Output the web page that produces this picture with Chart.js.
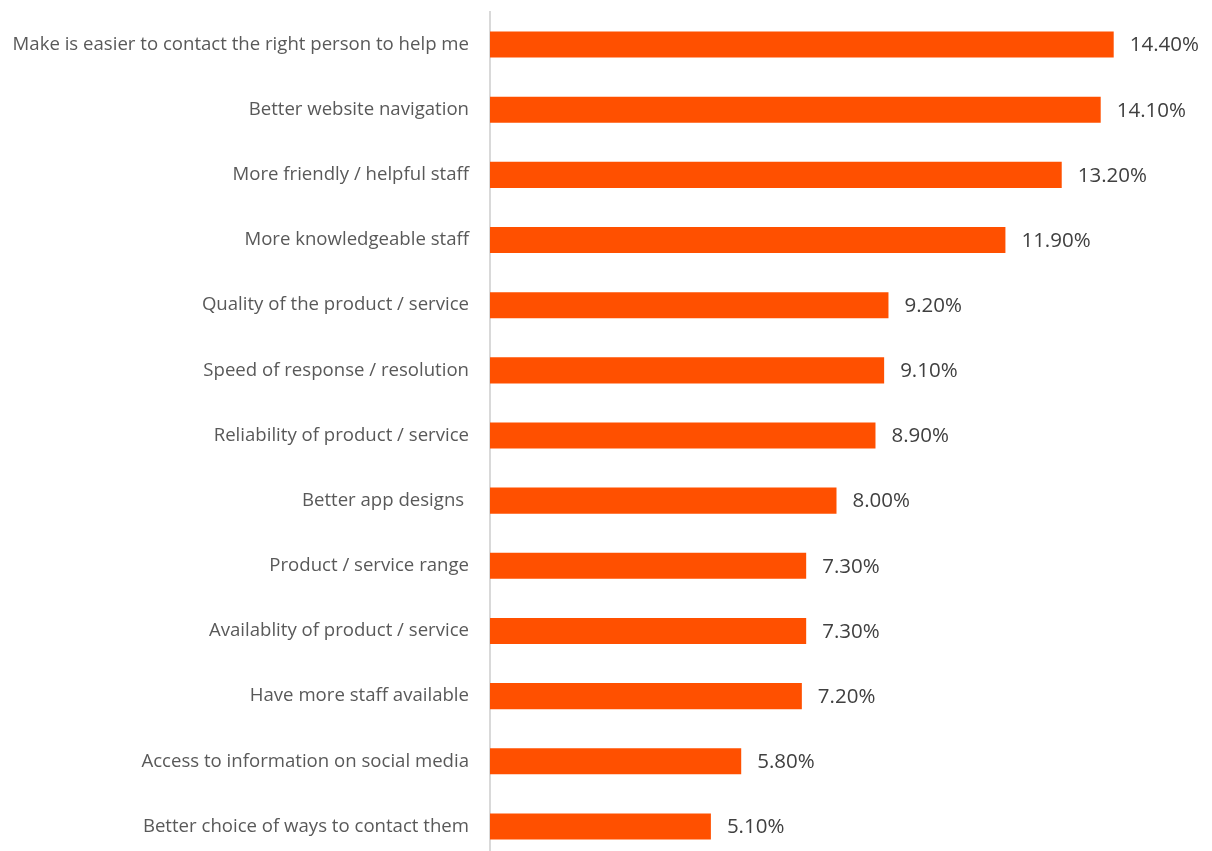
<!DOCTYPE html>
<html>
<head>
<meta charset="utf-8">
<script src="https://cdn.jsdelivr.net/npm/chart.js@4.4.1/dist/chart.umd.min.js"></script>
<style>
html,body{margin:0;padding:0;background:#fff;overflow:hidden}
#wrap{width:1212px;height:860px}
</style>
</head>
<body>
<div id="wrap"><canvas id="c" width="1212" height="860"></canvas></div>
<script>
const categories=['Make is easier to contact the right person to help me','Better website navigation','More friendly / helpful staff','More knowledgeable staff','Quality of the product / service','Speed of response / resolution','Reliability of product / service','Better app designs ','Product / service range','Availablity of product / service','Have more staff available','Access to information on social media','Better choice of ways to contact them'];
const values=[14.4,14.1,13.2,11.9,9.2,9.1,8.9,8.0,7.3,7.3,7.2,5.8,5.1];

const FONT='"Open Sans", "Liberation Sans", sans-serif';
const valueLabels={
  id:'valueLabels',
  afterDatasetsDraw(chart){
    const ctx=chart.ctx;
    ctx.save();
    ctx.font='20.5px '+FONT;
    ctx.fillStyle='#404040';
    ctx.textBaseline='middle';
    chart.getDatasetMeta(0).data.forEach((bar,i)=>{
      ctx.fillText(values[i].toFixed(2)+'%',bar.x+16,bar.y+1);
    });
    ctx.restore();
  }
};

new Chart(document.getElementById('c'),{
  type:'bar',
  data:{labels:categories,datasets:[{data:values,backgroundColor:'#FF5000',barPercentage:0.8,categoryPercentage:0.5}]},
  options:{
    indexAxis:'y',responsive:false,animation:false,
    layout:{padding:{top:12,bottom:1,left:0,right:29}},
    plugins:{legend:{display:false},tooltip:{enabled:false}},
    scales:{
      x:{display:false,min:0,max:16},
      y:{
        grid:{display:false},
        border:{display:true,color:'#d9d9d9',width:2},
        ticks:{color:'#595959',font:{family:FONT,size:18.6},padding:13,autoSkip:false},
        afterFit(s){s.width=490;s.paddingTop=0;s.paddingBottom=0;}
      }
    }
  },
  plugins:[valueLabels]
});
</script>
</body>
</html>
